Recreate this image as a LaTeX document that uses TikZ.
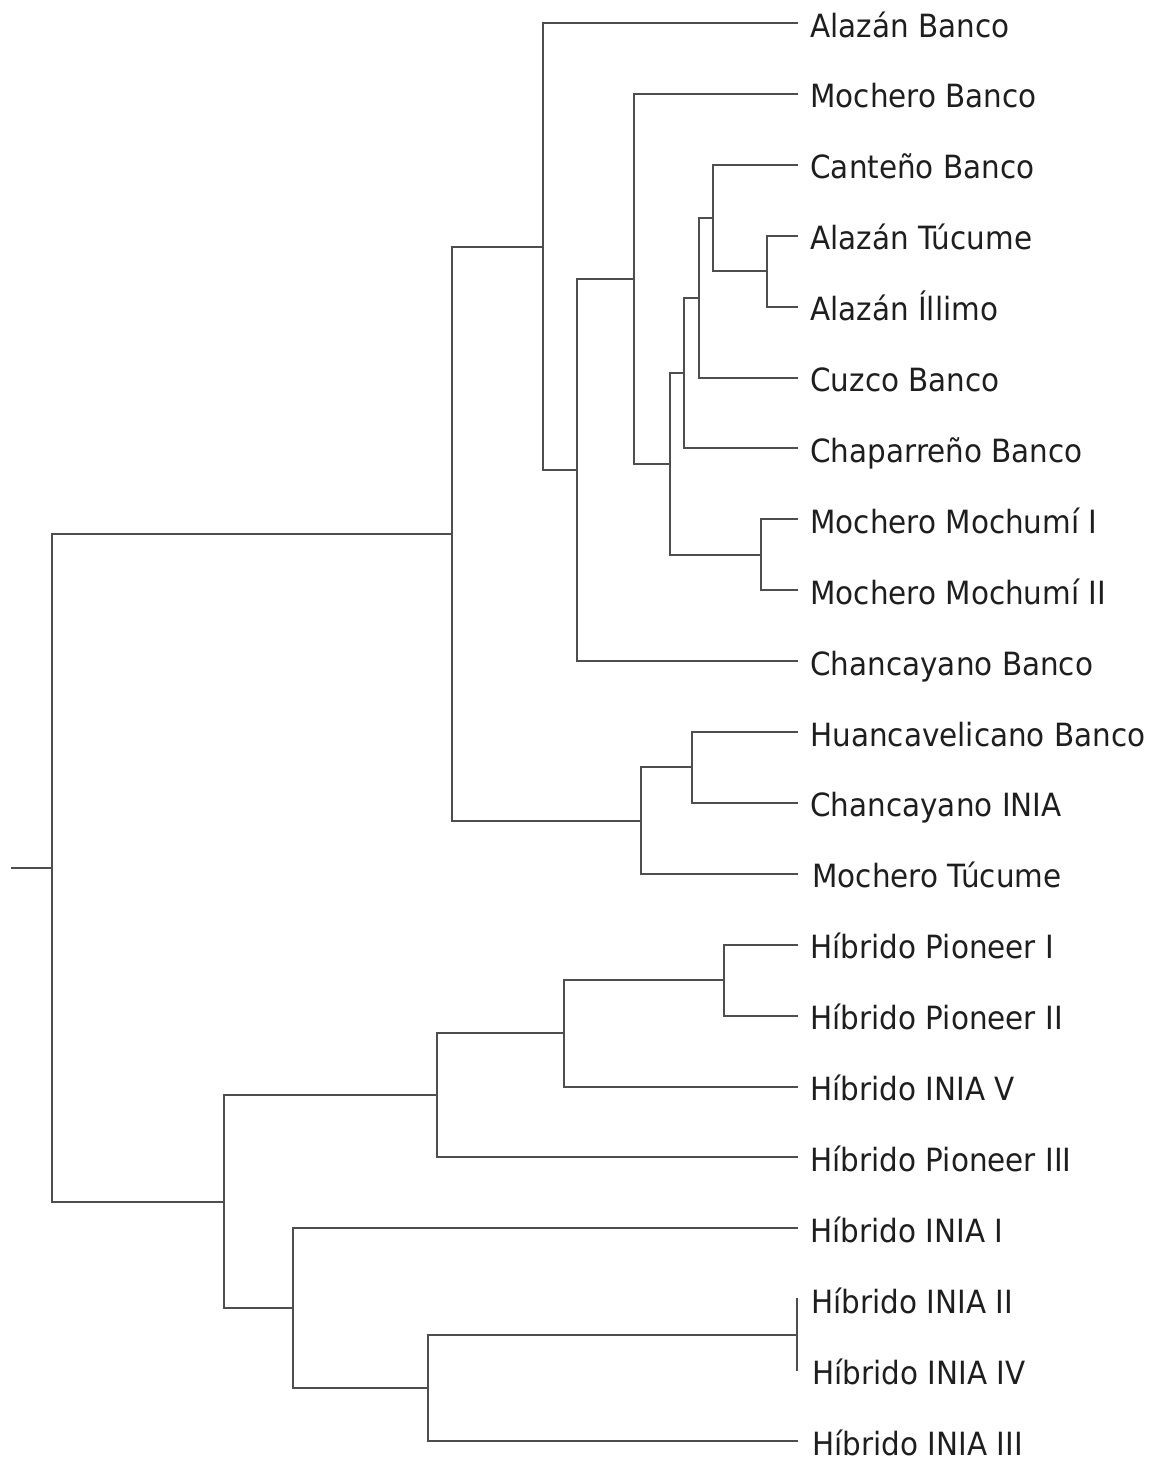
\documentclass[tikz,border=0pt]{standalone}
\usepackage{fontspec}
\setmainfont{DejaVu Sans}[FakeStretch=0.92]
\definecolor{edge}{RGB}{78,78,78}
\definecolor{txt}{RGB}{30,30,30}
\begin{document}
\begin{tikzpicture}[x=0.5pt,y=-0.5pt,
  branch/.style={draw=edge,line width=1pt,line cap=rect},
  lab/.style={anchor=base west,inner sep=0pt,text=txt,font=\fontsize{16}{19}\selectfont}]
\useasboundingbox (0,0) rectangle (1153,1463);
% leaf ends
\coordinate (L0) at (797,23.0);
\coordinate (L1) at (797,93.9);
\coordinate (L2) at (797,164.8);
\coordinate (L3) at (797,235.7);
\coordinate (L4) at (797,306.6);
\coordinate (L5) at (797,377.5);
\coordinate (L6) at (797,448.4);
\coordinate (L7) at (797,519.3);
\coordinate (L8) at (797,590.2);
\coordinate (L9) at (797,661.1);
\coordinate (L10) at (797,732.0);
\coordinate (L11) at (797,802.9);
\coordinate (L12) at (797,873.8);
\coordinate (L13) at (797,944.7);
\coordinate (L14) at (797,1015.6);
\coordinate (L15) at (797,1086.5);
\coordinate (L16) at (797,1157.4);
\coordinate (L17) at (797,1228.3);
\coordinate (L18) at (797,1299.2);
\coordinate (L19) at (797,1370.1);
\coordinate (L20) at (797,1441.0);
% labels
\node[lab] (t0) at (810,37.0) {Alazán Banco};
\node[lab] (t1) at (810,107.9) {Mochero Banco};
\node[lab] (t2) at (810,178.8) {Canteño Banco};
\node[lab] (t3) at (810,249.7) {Alazán Túcume};
\node[lab] (t4) at (810,320.6) {Alazán Íllimo};
\node[lab] (t5) at (810,391.5) {Cuzco Banco};
\node[lab] (t6) at (810,462.4) {Chaparreño Banco};
\node[lab] (t7) at (810,533.3) {Mochero Mochumí I};
\node[lab] (t8) at (810,604.2) {Mochero Mochumí II};
\node[lab] (t9) at (810,675.1) {Chancayano Banco};
\node[lab] (t10) at (810,746.0) {Huancavelicano Banco};
\node[lab] (t11) at (810,816.9) {Chancayano INIA};
\node[lab] (t12) at (812,887.8) {Mochero Túcume};
\node[lab] (t13) at (810,958.7) {Híbrido Pioneer I};
\node[lab] (t14) at (810,1029.6) {Híbrido Pioneer II};
\node[lab] (t15) at (810,1100.5) {Híbrido INIA V};
\node[lab] (t16) at (810,1171.4) {Híbrido Pioneer III};
\node[lab] (t17) at (810,1242.3) {Híbrido INIA I};
\node[lab] (t18) at (811,1313.2) {Híbrido INIA II};
\node[lab] (t19) at (812,1384.1) {Híbrido INIA IV};
\node[lab] (t20) at (812,1455.0) {Híbrido INIA III};
% internal nodes
\coordinate (n1) at (767,271.15);
\coordinate (n2) at (713,218.0);
\coordinate (n3) at (699,297.75);
\coordinate (n4) at (684,373.1);
\coordinate (n5) at (761,554.75);
\coordinate (n6) at (670,463.9);
\coordinate (n7) at (634,278.9);
\coordinate (n8) at (577,470.0);
\coordinate (n9) at (543,246.5);
\coordinate (n10) at (692,767.45);
\coordinate (n11) at (641,820.6);
\coordinate (n12) at (452,533.55);
\coordinate (n13) at (724,980.15);
\coordinate (n14) at (564,1033.3);
\coordinate (n15) at (437,1095.4);
\coordinate (n16) at (797,1334.65);
\coordinate (n17) at (428,1387.8);
\coordinate (n18) at (293,1308.05);
\coordinate (n19) at (224,1201.7);
\coordinate (root) at (52,867.6);
\coordinate (stub) at (12,867.6);
% connectors
\draw[branch] (n1) |- (L3) (n1) |- (L4);
\draw[branch] (n2) |- (L2) (n2) |- (n1);
\draw[branch] (n3) |- (n2) (n3) |- (L5);
\draw[branch] (n4) |- (n3) (n4) |- (L6);
\draw[branch] (n5) |- (L7) (n5) |- (L8);
\draw[branch] (n6) |- (n4) (n6) |- (n5);
\draw[branch] (n7) |- (L1) (n7) |- (n6);
\draw[branch] (n8) |- (n7) (n8) |- (L9);
\draw[branch] (n9) |- (L0) (n9) |- (n8);
\draw[branch] (n10) |- (L10) (n10) |- (L11);
\draw[branch] (n11) |- (n10) (n11) |- (L12);
\draw[branch] (n12) |- (n9) (n12) |- (n11);
\draw[branch] (n13) |- (L13) (n13) |- (L14);
\draw[branch] (n14) |- (n13) (n14) |- (L15);
\draw[branch] (n15) |- (n14) (n15) |- (L16);
\draw[branch] (n16) -- (L18) (n16) -- (L19);
\draw[branch] (n17) |- (n16) (n17) |- (L20);
\draw[branch] (n18) |- (L17) (n18) |- (n17);
\draw[branch] (n19) |- (n15) (n19) |- (n18);
\draw[branch] (root) |- (n12) (root) |- (n19);
\draw[branch] (stub) -- (root);
\end{tikzpicture}
\end{document}
